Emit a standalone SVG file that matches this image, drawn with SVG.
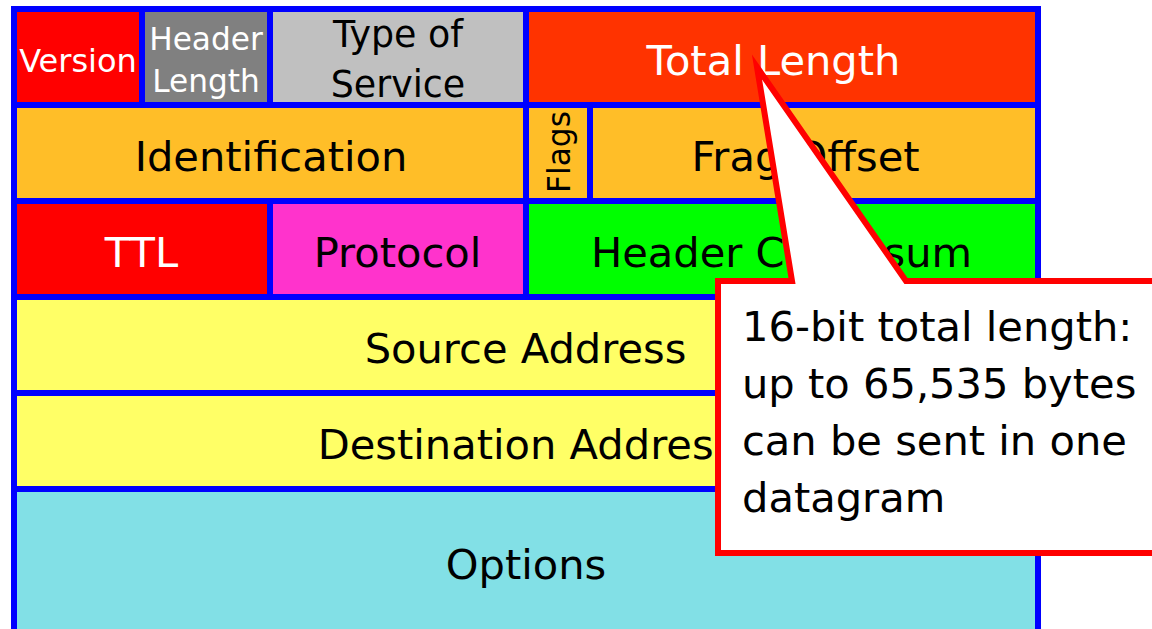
<svg xmlns="http://www.w3.org/2000/svg" width="1152" height="629" viewBox="0 0 1152 629">
  <style>
    .cell { stroke: none; }
    .lbl { font-family: "DejaVu Sans", Verdana, sans-serif; text-anchor: middle; }
    .big { font-size: 41.6px; }
    .mid { font-size: 36.4px; }
    .small { font-size: 31.2px; }
    .w { fill: #ffffff; }
    .k { fill: #000000; }
    .note { font-family: "DejaVu Sans", Verdana, sans-serif; font-size: 41.6px; fill: #000000; }
  </style>

  <!-- blue frame behind the header fields; the 6px gaps between cells show it as grid lines -->
  <rect id="frame" x="11" y="6" width="1030" height="640" fill="#0000ff"/>

  <!-- row 1 -->
  <g id="version">
    <rect class="cell" x="17" y="12" width="122" height="90" fill="#ff0000"/>
    <text class="lbl w" x="78" y="71.5" font-size="32">Version</text>
  </g>
  <g id="header-length">
    <rect class="cell" x="145" y="12" width="122" height="90" fill="#808080"/>
    <text class="lbl small w" x="206" y="49.5">Header</text>
    <text class="lbl small w" x="206" y="92">Length</text>
  </g>
  <g id="type-of-service">
    <rect class="cell" x="273" y="12" width="250" height="90" fill="#c0c0c0"/>
    <text class="lbl mid k" x="398" y="47">Type of</text>
    <text class="lbl mid k" x="398" y="97">Service</text>
  </g>
  <g id="total-length">
    <rect class="cell" x="529" y="12" width="506" height="90" fill="#ff3300"/>
    <text class="lbl big w" x="773.5" y="75">Total Length</text>
  </g>

  <!-- row 2 -->
  <g id="identification">
    <rect class="cell" x="17" y="108" width="506" height="90" fill="#ffbe28"/>
    <text class="lbl big k" x="271" y="171">Identification</text>
  </g>
  <g id="flags">
    <rect class="cell" x="529" y="108" width="58" height="90" fill="#ffbe28"/>
    <text class="lbl small k" transform="translate(570 152) rotate(-90)">Flags</text>
  </g>
  <g id="frag-offset">
    <rect class="cell" x="593" y="108" width="442" height="90" fill="#ffbe28"/>
    <text class="lbl big k" x="805.5" y="171">Frag Offset</text>
  </g>

  <!-- row 3 -->
  <g id="ttl">
    <rect class="cell" x="17" y="204" width="250" height="90" fill="#ff0000"/>
    <text class="lbl big w" x="141.5" y="267">TTL</text>
  </g>
  <g id="protocol">
    <rect class="cell" x="273" y="204" width="250" height="90" fill="#ff33cc"/>
    <text class="lbl big k" x="397.5" y="267">Protocol</text>
  </g>
  <g id="header-checksum">
    <rect class="cell" x="529" y="204" width="506" height="90" fill="#00ff00"/>
    <text class="lbl big k" x="781.5" y="267">Header Checksum</text>
  </g>

  <!-- rows 4-6 -->
  <g id="source-address">
    <rect class="cell" x="17" y="300" width="1018" height="90" fill="#ffff66"/>
    <text class="lbl big k" x="525.5" y="363">Source Address</text>
  </g>
  <g id="destination-address">
    <rect class="cell" x="17" y="396" width="1018" height="90" fill="#ffff66"/>
    <text class="lbl big k" x="526.5" y="459">Destination Address</text>
  </g>
  <g id="options">
    <rect class="cell" x="17" y="492" width="1018" height="150" fill="#82e0e6"/>
    <text class="lbl big k" x="526" y="579">Options</text>
  </g>

  <!-- callout pointing at the Total Length field -->
  <g id="connectors">
    <path d="M718 281 H792 L757 67 L906 281 H1160 V553 H718 Z"
          fill="#ffffff" stroke="#ff0000" stroke-width="6" stroke-linejoin="miter" stroke-miterlimit="10"/>
  </g>
  <g id="callout-text">
    <text class="note" x="742" y="341">16-bit total length:</text>
    <text class="note" x="742" y="398">up to 65,535 bytes</text>
    <text class="note" x="742" y="455">can be sent in one</text>
    <text class="note" x="742" y="512">datagram</text>
  </g>
</svg>
